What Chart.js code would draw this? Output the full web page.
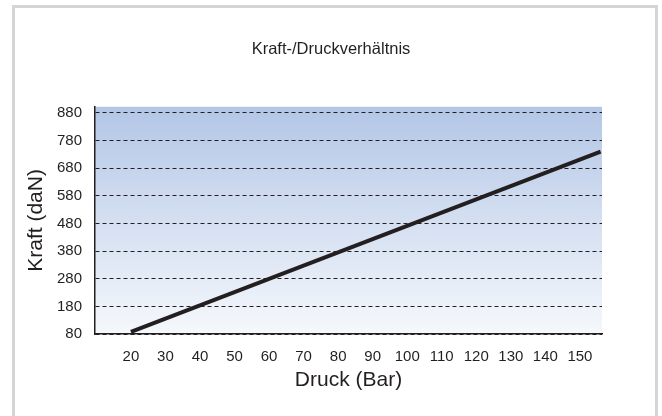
<!DOCTYPE html>
<html>
<head>
<meta charset="utf-8">
<script src="https://cdn.jsdelivr.net/npm/chart.js@4.4.0/dist/chart.umd.min.js"></script>
<style>
  html, body { margin: 0; padding: 0; background: #fff; }
  #wrap { position: relative; width: 662px; height: 416px; overflow: hidden; }
  #frame {
    position: absolute; left: 12px; top: 5px; width: 640px; height: 430px;
    border: 3px solid #d5d5d5; border-bottom: none;
  }
  #kraftChart { position: absolute; left: 0; top: 0; }
</style>
</head>
<body>
<div id="wrap">
  <div id="frame"></div>
  <canvas id="kraftChart" width="662" height="416"></canvas>
</div>
<script>
// Druck (Bar) -> Kraft (daN), straight line
const druckValues = [20, 156];
const kraftValues = [88, 740];

// axis tick labels
const druckTicks = [20, 30, 40, 50, 60, 70, 80, 90, 100, 110, 120, 130, 140, 150];
const kraftTicks = [80, 180, 280, 380, 480, 580, 680, 780, 880];

const fontFamily = '"Liberation Sans", Arial, sans-serif';
const textColor = '#231f20';

// blue-to-white fill behind the plot area
const plotBackground = {
  id: 'plotBackground',
  beforeDraw(chart) {
    const { ctx, chartArea } = chart;
    if (!chartArea) return;
    const grad = ctx.createLinearGradient(0, chartArea.top, 0, chartArea.bottom);
    grad.addColorStop(0, '#b3c6e6');
    grad.addColorStop(1, '#f5f8fc');
    ctx.save();
    ctx.fillStyle = grad;
    ctx.fillRect(chartArea.left, chartArea.top, chartArea.right - chartArea.left, chartArea.bottom - chartArea.top);
    ctx.restore();
  }
};

const points = druckValues.map((d, i) => ({ x: d, y: kraftValues[i] }));

new Chart(document.getElementById('kraftChart').getContext('2d'), {
  type: 'line',
  data: {
    datasets: [{
      label: 'Kraft',
      data: points,
      borderColor: textColor,
      borderWidth: 4,
      pointRadius: 0,
      fill: false,
      tension: 0
    }]
  },
  options: {
    responsive: false,
    animation: false,
    layout: { padding: 0 },
    plugins: {
      legend: { display: false },
      tooltip: { enabled: false },
      title: {
        display: true,
        text: 'Kraft-/Druckverhältnis',
        color: textColor,
        font: { family: fontFamily, size: 16.5, weight: 'normal' },
        padding: { top: 40, bottom: 47 }
      }
    },
    scales: {
      x: {
        type: 'linear',
        min: 9.6,
        max: 156.4,
        afterFit(scale) { scale.height = 82; },
        afterBuildTicks(scale) { scale.ticks = druckTicks.map(v => ({ value: v })); },
        grid: { display: false },
        border: { display: true, color: textColor, width: 1.5 },
        ticks: {
          color: textColor,
          padding: 6,
          maxRotation: 0,
          autoSkip: false,
          font: { family: fontFamily, size: 15 }
        },
        title: {
          display: true,
          text: 'Druck (Bar)',
          color: textColor,
          font: { family: fontFamily, size: 21 },
          padding: { top: 0, bottom: 23 }
        }
      },
      y: {
        type: 'linear',
        min: 80,
        max: 902,
        afterFit(scale) { scale.width = 95; },
        afterBuildTicks(scale) { scale.ticks = kraftTicks.map(v => ({ value: v })); },
        grid: { color: textColor, lineWidth: 1, drawTicks: false },
        border: { display: true, color: textColor, width: 1.5, dash: [4, 3] },
        ticks: {
          color: textColor,
          padding: 13,
          autoSkip: false,
          font: { family: fontFamily, size: 15 }
        },
        title: {
          display: true,
          text: 'Kraft (daN)',
          color: textColor,
          font: { family: fontFamily, size: 21 },
          padding: { top: 24, bottom: 0 }
        }
      },
      // empty right-hand axis: reserves the blank margin right of the plot
      yRight: {
        type: 'linear',
        position: 'right',
        min: 80,
        max: 902,
        afterFit(scale) { scale.width = 60; },
        grid: { display: false },
        border: { display: false },
        ticks: { display: false }
      }
    }
  },
  plugins: [plotBackground]
});
</script>
</body>
</html>
